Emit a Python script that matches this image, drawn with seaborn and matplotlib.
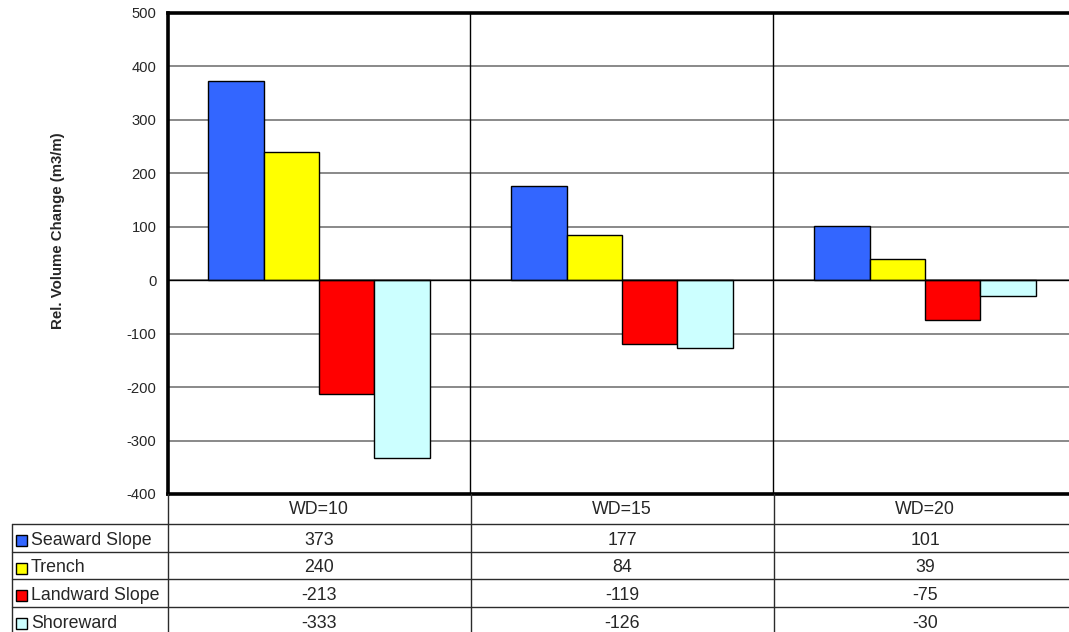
import matplotlib
matplotlib.use("Agg")
import matplotlib.pyplot as plt
from matplotlib.patches import Rectangle
import numpy as np
import pandas as pd
import seaborn as sns

# chart data
categories = ["WD=10", "WD=15", "WD=20"]
series = ["Seaward Slope", "Trench", "Landward Slope", "Shoreward"]
seaward_slope = [373, 177, 101]
trench = [240, 84, 39]
landward_slope = [-213, -119, -75]
shoreward = [-333, -126, -30]
y_ticks = [-400, -300, -200, -100, 0, 100, 200, 300, 400, 500]

colors = {"Seaward Slope": "#3366FF", "Trench": "#FFFF00",
          "Landward Slope": "#FF0000", "Shoreward": "#CCFFFF"}

values = [seaward_slope, trench, landward_slope, shoreward]
df = pd.DataFrame(
    [(c, s, v[i]) for s, v in zip(series, values) for i, c in enumerate(categories)],
    columns=["category", "series", "value"],
)

sns.set_style("white")
plt.rcParams["font.family"] = ["Liberation Sans", "DejaVu Sans"]

W, H = 1069, 632
fig = plt.figure(figsize=(W / 100, H / 100), dpi=100, facecolor="white")

# plot area in pixels (right edge runs past the image, as in the reference)
left_px, top_px, bottom_px, col_w = 167.5, 13, 494, 303
ax = fig.add_axes([left_px / W, 1 - bottom_px / H,
                   3 * col_w / W, (bottom_px - top_px) / H])

sns.barplot(data=df, x="category", y="value", hue="series",
            order=categories, hue_order=series, palette=colors,
            saturation=1, width=0.73, edgecolor="black", linewidth=1.0,
            legend=False, ax=ax, zorder=3)

ax.set_ylim(-400, 500)
ax.set_xlim(-0.5, 2.5)
ax.set_yticks(y_ticks)
ax.set_yticklabels([str(t) for t in y_ticks], fontsize=10.6)
ax.tick_params(axis="y", direction="out", length=4, width=1, pad=4, color="black")
ax.tick_params(axis="x", length=0, labelbottom=False)
ax.set_xlabel("")
ax.set_ylabel("")

for t in y_ticks[1:-1]:
    ax.axhline(t, color="#808080", linewidth=1.3, zorder=1)
ax.axhline(0, color="black", linewidth=1.0, zorder=4)
for x in [0.5, 1.5]:
    ax.axvline(x, color="black", linewidth=1.0, zorder=2)

for side in ["left", "top", "bottom"]:
    ax.spines[side].set_color("black")
    ax.spines[side].set_linewidth(2.6)
ax.spines["right"].set_visible(False)

fig.text(58 / W, 1 - 231 / H, "Rel. Volume Change (m3/m)", rotation=90,
         ha="center", va="center", fontsize=10.8, fontweight="bold")

# data table below the plot, drawn in pixel coordinates
tab = fig.add_axes([0, 0, 1, 1], zorder=5)
tab.set_xlim(0, W)
tab.set_ylim(H, 0)
tab.axis("off")
tab.patch.set_alpha(0)

row_edges = [494, 524, 552, 579, 607, 635]
line_kw = dict(color="#2b2b2b", linewidth=1.0)
for y in row_edges[1:-1]:
    tab.plot([12, W], [y, y], **line_kw)
tab.plot([12, 12], [row_edges[1], H], **line_kw)
for i in range(3):
    x = left_px + i * col_w
    tab.plot([x, x], [bottom_px, H], **line_kw)

fs = 12.8
for i, cat in enumerate(categories):
    cx = left_px + (i + 0.5) * col_w
    tab.text(cx, (row_edges[0] + row_edges[1]) / 2 + 1, cat,
             ha="center", va="center", fontsize=fs)
    for r, v in enumerate(values):
        cy = (row_edges[r + 1] + row_edges[r + 2]) / 2 + 2.5
        tab.text(cx, cy, str(v[i]), ha="center", va="center", fontsize=fs)

for r, name in enumerate(series):
    cy = (row_edges[r + 1] + row_edges[r + 2]) / 2 + 2.5
    tab.add_patch(Rectangle((15.5, cy - 5.5), 11, 11, facecolor=colors[name],
                            edgecolor="black", linewidth=1.0))
    tab.text(31, cy, name, ha="left", va="center", fontsize=fs)

fig.savefig("out.png", dpi=100, facecolor="white")
